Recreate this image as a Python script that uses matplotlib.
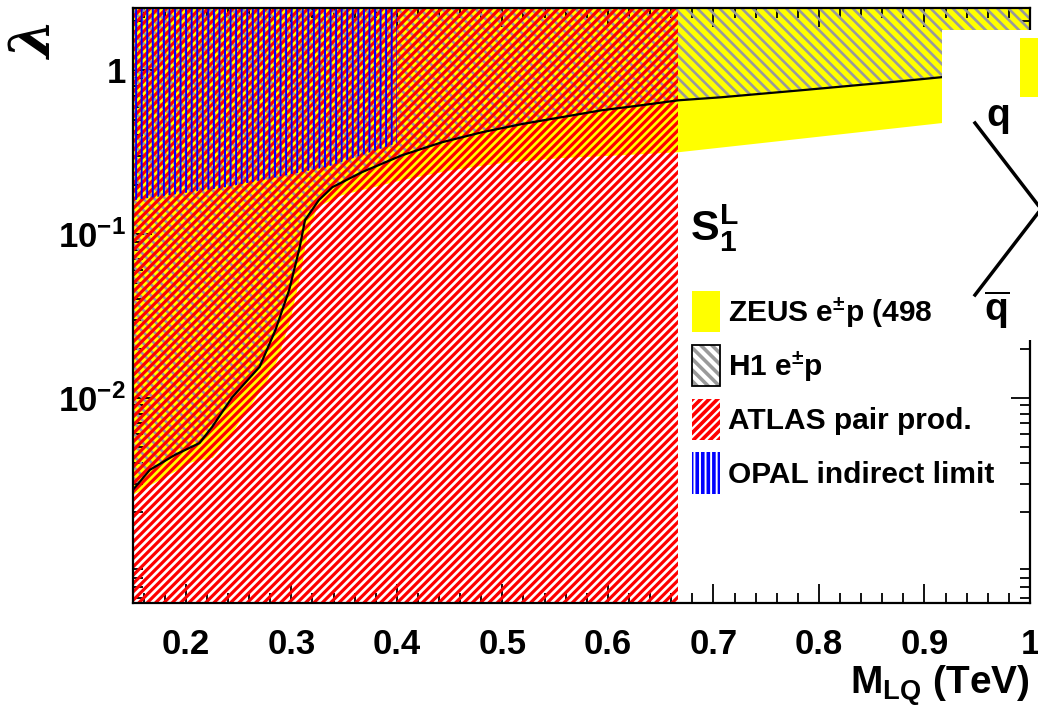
import numpy as np
import matplotlib.pyplot as plt
from matplotlib.patches import Patch, Rectangle
from matplotlib.lines import Line2D
from matplotlib.ticker import MultipleLocator, LogLocator, NullFormatter

plt.rcParams['font.family'] = ['Liberation Sans', 'DejaVu Sans']
plt.rcParams['font.weight'] = 'bold'
plt.rcParams['mathtext.fontset'] = 'custom'
plt.rcParams['mathtext.rm'] = 'Liberation Sans:bold'
plt.rcParams['mathtext.bf'] = 'Liberation Sans:bold'
plt.rcParams['mathtext.it'] = 'Liberation Sans:bold'
plt.rcParams['hatch.linewidth'] = 2.6

# H1 e+-p limit (black line), excluded above
h1_mass = [0.15, 0.166, 0.190, 0.213, 0.225, 0.244, 0.270, 0.285, 0.298, 0.308,
           0.313, 0.326, 0.339, 0.367, 0.405, 0.443, 0.481, 0.518, 0.556, 0.594,
           0.632, 0.667, 0.707, 0.783, 0.877, 0.915, 1.0]
h1_lambda = [0.00275, 0.00364, 0.0045, 0.0053, 0.00665, 0.0101, 0.0155, 0.026, 0.0456, 0.0833,
             0.1217, 0.161, 0.1935, 0.239, 0.303, 0.364, 0.419, 0.469, 0.517, 0.570,
             0.612, 0.656, 0.684, 0.755, 0.857, 0.906, 1.03]

# ZEUS e+-p (498 pb-1) limit, excluded above
zeus_mass = [0.15, 0.2066, 0.2255, 0.2397, 0.2586, 0.2747, 0.287, 0.2992, 0.3087, 0.3152,
             0.3247, 0.3483, 0.405, 0.452, 0.4994, 0.556, 0.6133, 0.667, 0.745, 0.830,
             0.915, 1.0]
zeus_lambda = [0.00256, 0.00407, 0.00431, 0.00554, 0.00845, 0.0120, 0.0171, 0.0299, 0.0562, 0.0986,
               0.146, 0.173, 0.2135, 0.2457, 0.271, 0.291, 0.303, 0.316, 0.359, 0.413,
               0.475, 0.539]

# OPAL indirect limit, excluded above
opal_mass = [0.15, 0.2385, 0.333, 0.40]
opal_lambda = [0.161, 0.1935, 0.256, 0.359]

# ATLAS pair production: excluded below this mass
atlas_limit = 0.666

m_min, m_max = 0.15, 1.0
lam_min, lam_max = 5.6e-4, 2.4

fig = plt.figure(figsize=(10.38, 7.14), dpi=100)
ax = fig.add_axes([133/1038, 1-603/714, 897/1038, 595/714])


def hatched(artist, lw):
    # per-artist hatch width where matplotlib supports it
    if hasattr(artist, 'set_hatch_linewidth'):
        artist.set_hatch_linewidth(lw)
    return artist


ax.fill_between(zeus_mass, zeus_lambda, lam_max, facecolor='yellow', edgecolor='none',
                linewidth=0, zorder=1)
hatched(ax.fill_between(h1_mass, h1_lambda, lam_max, facecolor='none', edgecolor='#9a9a9a',
                        hatch='\\\\\\', linewidth=0, zorder=2), 1.9)
hatched(ax.fill_between([m_min, atlas_limit], lam_min, lam_max, facecolor='none',
                        edgecolor='#ff0000', hatch='////', linewidth=0, zorder=3), 2.3)
hatched(ax.fill_between(opal_mass, opal_lambda, lam_max, facecolor='none', edgecolor='#0000ff',
                        hatch='|||', linewidth=0, zorder=4), 1.4)
ax.plot(h1_mass, h1_lambda, color='black', lw=1.6, zorder=5)

ax.set_xlim(m_min, m_max)
ax.set_yscale('log')
ax.set_ylim(lam_min, lam_max)

ax.set_xticks(np.arange(0.2, 1.01, 0.1))
ax.set_xticklabels(['0.2', '0.3', '0.4', '0.5', '0.6', '0.7', '0.8', '0.9', '1'])
ax.xaxis.set_minor_locator(MultipleLocator(0.02))
ax.set_yticks([0.01, 0.1, 1])
ax.set_yticklabels([r'$\mathbf{10^{-2}}$', r'$\mathbf{10^{-1}}$', '1'])
ax.yaxis.set_minor_locator(LogLocator(base=10, subs=np.arange(2, 10)))
ax.yaxis.set_minor_formatter(NullFormatter())

ax.tick_params(which='both', direction='in', top=True, right=True, width=1.3, labelsize=25)
ax.tick_params(which='major', length=14)
ax.tick_params(which='minor', length=7)
ax.tick_params(axis='x', pad=18)
ax.tick_params(axis='y', pad=5)
for s in ax.spines.values():
    s.set_linewidth(1.6)
    s.set_zorder(6)

fig.text(36/1038, 1-40/714, r'$\lambda$', rotation=90, fontsize=40, ha='center', va='center',
         math_fontfamily='dejavuserif')
fig.text(1030/1038, 1-686/714, r'$\mathbf{M_{LQ}}$ (TeV)', fontsize=28, ha='right', va='center')

fig.text(690/1038, 1-228/714, r'$\mathbf{S_1^L}$', fontsize=31, ha='left', va='center')

handles = [
    Patch(facecolor='yellow', edgecolor='none'),
    (Patch(facecolor='white', edgecolor='#9a9a9a', hatch='\\\\\\', linewidth=0),
     Patch(facecolor='none', edgecolor='black', linewidth=1.3)),
    Patch(facecolor='white', edgecolor='red', hatch='////', linewidth=0),
    Patch(facecolor='white', edgecolor='blue', hatch='|||', linewidth=0),
]
labels = [r'ZEUS e$^{\pm}$p (498', r'H1 e$^{\pm}$p', 'ATLAS pair prod.', 'OPAL indirect limit']
ax.legend(handles, labels, loc='upper left', bbox_to_anchor=(692/1038, 1-291/714),
          bbox_transform=fig.transFigure, frameon=False, fontsize=21.5,
          handlelength=0.95, handleheight=1.75, handletextpad=0.25, labelspacing=0.42,
          borderaxespad=0, borderpad=0)

# neighbouring panel overlapping the right edge
fig.add_artist(Rectangle((942/1038, 1-340/714), 96/1038, 310/714, transform=fig.transFigure,
                         facecolor='white', edgecolor='none', zorder=10))
fig.add_artist(Rectangle((1020/1038, 1-97/714), 18/1038, 59/714, transform=fig.transFigure,
                         facecolor='yellow', edgecolor='none', zorder=11))
fig.add_artist(Line2D([975/1038, 1038/1038], [1-123/714, 1-205/714], transform=fig.transFigure,
                      color='black', lw=2.5, zorder=11))
fig.add_artist(Line2D([975/1038, 1038/1038], [1-295/714, 1-213/714], transform=fig.transFigure,
                      color='black', lw=2.5, zorder=11))
fig.text(998/1038, 1-118/714, r'$\mathbf{q}$', fontsize=28, ha='center', va='center', zorder=12)
fig.text(997/1038, 1-310/714, r'$\overline{\mathbf{q}}$', fontsize=28, ha='center', va='center',
         zorder=12)

fig.savefig('out.png', dpi=100)
